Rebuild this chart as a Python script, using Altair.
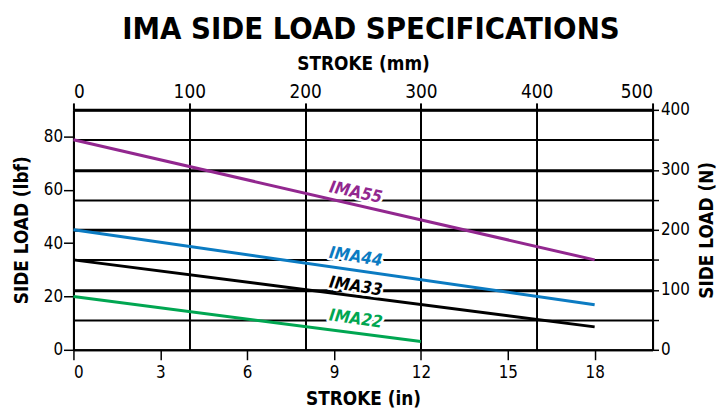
import altair as alt
import pandas as pd

# ---- data ----
series = ["IMA55", "IMA44", "IMA33", "IMA22"]
start_in = [0, 0, 0, 0]
end_in = [18, 18, 18, 12]
start_lbf = [78.7, 45.0, 33.7, 20.0]
end_lbf = [33.7, 16.9, 8.6, 3.1]
colors = ["#92278F", "#0B7BC2", "#000000", "#00A651"]

label_in = [9.75, 9.75, 9.75, 9.75]
label_lbf = [58.9, 34.8, 23.7, 11.5]
label_angle = [12, 9, 9, 8]

in_ticks = [0, 3, 6, 9, 12, 15, 18]
lbf_ticks = [0, 10, 20, 30, 40, 50, 60, 70, 80]
mm_ticks = [0, 100, 200, 300, 400, 500]
n_ticks = [0, 50, 100, 150, 200, 250, 300, 350, 400]

IN_MAX = 20            # 500 mm at 25 mm/in
LBF_MAX = 400 / 4.448  # 400 N in lbf

FONT = "DejaVu Sans Condensed, DejaVu Sans, sans-serif"

rows = []
for s, x0, x1, y0, y1 in zip(series, start_in, end_in, start_lbf, end_lbf):
    rows.append({"series": s, "inch": x0, "lbf": y0})
    rows.append({"series": s, "inch": x1, "lbf": y1})
lines_df = pd.DataFrame(rows)

labels_df = pd.DataFrame({"series": series, "inch": label_in, "lbf": label_lbf, "angle": label_angle})

axes_df = pd.DataFrame({"mm": [0, 500], "N": [0, 400]})

color_scale = alt.Scale(domain=series, range=colors)

x_in = alt.X("inch:Q",
             scale=alt.Scale(domain=[0, IN_MAX], nice=False, zero=False),
             axis=alt.Axis(orient="bottom", values=in_ticks, title="STROKE (in)",
                           grid=False, tickSize=10, tickWidth=1.5, tickColor="black",
                           domainWidth=2, domainColor="black",
                           labelFontSize=17, labelPadding=5, labelFont=FONT, labelColor="black",
                           titleFont=FONT, titleFontSize=19, titleFontWeight="bold",
                           titlePadding=9, titleColor="black"))
y_lbf = alt.Y("lbf:Q",
              scale=alt.Scale(domain=[0, LBF_MAX], nice=False, zero=False),
              axis=alt.Axis(orient="left", values=lbf_ticks, title="SIDE LOAD (lbf)",
                            labelExpr="datum.value % 20 === 0 ? datum.label : ''",
                            grid=False, tickSize=10, tickWidth=1.5, tickColor="black",
                            domainWidth=2, domainColor="black",
                            labelFontSize=17, labelPadding=1, labelFont=FONT, labelColor="black",
                            titleFont=FONT, titleFontSize=19, titleFontWeight="bold",
                            titlePadding=12, titleColor="black"))

lines = alt.Chart(lines_df).mark_line(strokeWidth=3).encode(
    x=x_in, y=y_lbf,
    color=alt.Color("series:N", scale=color_scale, legend=None),
    detail="series:N",
)

label_enc = dict(
    x=alt.X("inch:Q"), y=alt.Y("lbf:Q"),
    text="series:N",
    angle=alt.Angle("angle:Q", scale=None),
)

label_halo = alt.Chart(labels_df).mark_text(
    font=FONT, fontSize=17, fontWeight="bold", fontStyle="italic",
    color="white", stroke="white", strokeWidth=5, strokeJoin="round",
).encode(**label_enc)

labels = alt.Chart(labels_df).mark_text(
    font=FONT, fontSize=17, fontWeight="bold", fontStyle="italic"
).encode(
    color=alt.Color("series:N", scale=color_scale, legend=None),
    **label_enc,
)

main = alt.layer(lines, label_halo, labels)

axes = alt.Chart(axes_df).mark_point(opacity=0).encode(
    x=alt.X("mm:Q",
            scale=alt.Scale(domain=[0, 500], nice=False, zero=False),
            axis=alt.Axis(orient="top", values=mm_ticks, title="STROKE (mm)",
                          grid=True, gridColor="black", gridWidth=2, gridOpacity=1,
                          tickSize=7, tickWidth=2, tickColor="black",
                          domainWidth=2, domainColor="black",
                          labelFontSize=19, labelPadding=1, labelFont=FONT, labelColor="black",
                          titleFont=FONT, titleFontSize=19, titleFontWeight="bold",
                          titlePadding=10, titleColor="black")),
    y=alt.Y("N:Q",
            scale=alt.Scale(domain=[0, 400], nice=False, zero=False),
            axis=alt.Axis(orient="right", values=n_ticks, title="SIDE LOAD (N)",
                          labelExpr="datum.value % 100 === 0 ? datum.label : ''",
                          grid=True, gridColor="black", gridOpacity=1,
                          gridWidth={"condition": {"test": "datum.value % 100 === 0 && datum.value > 0", "value": 3}, "value": 2},
                          tickSize=6, tickWidth=1.5, tickColor="black",
                          domainWidth=2, domainColor="black",
                          labelFontSize=17, labelPadding=2, labelFont=FONT, labelColor="black",
                          titleFont=FONT, titleFontSize=19, titleFontWeight="bold",
                          titleAngle=270, titleBaseline="top", titlePadding=8,
                          titleColor="black")),
)

chart = alt.layer(axes, main).resolve_scale(x="independent", y="independent").properties(
    width=584,
    height=242,
    title=alt.TitleParams("IMA SIDE LOAD SPECIFICATIONS", font=FONT, fontSize=31,
                          fontWeight="bold", color="black", anchor="middle", offset=8, dx=8),
    autosize=alt.AutoSizeParams(type="none"),
    padding={"left": 66, "top": 101, "right": 66, "bottom": 60},
).configure_view(stroke=None).configure(background="white")

chart.save("out.html", embed_options={"renderer": "svg", "actions": False})
